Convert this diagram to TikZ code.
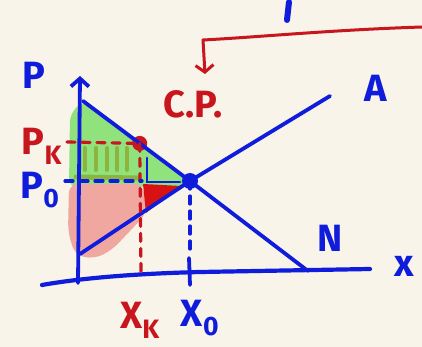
\documentclass[tikz,border=0pt]{standalone}
\usepackage{fontspec}
\setmainfont{Fira Sans}
\usetikzlibrary{arrows.meta,positioning,calc}
\definecolor{cB}{HTML}{0F1CDB}
\definecolor{cR}{HTML}{C8161E}
\definecolor{cG}{HTML}{8FE27C}
\definecolor{cH}{HTML}{8DB43E}
\definecolor{cP}{HTML}{F0A7A0}
\definecolor{cD}{HTML}{D81212}
\definecolor{paper}{HTML}{F8F4EA}
\tikzset{pen/.style={line width=3.8pt,line cap=round,line join=round},
  dashpen/.style={pen,line width=3.2pt,dash pattern=on 8pt off 7pt},
  lab/.style={font=\fontsize{38}{38}\selectfont\bfseries,inner sep=0pt},
  dot/.style={circle,fill,inner sep=0pt,minimum size=#1}}

\begin{document}
\begin{tikzpicture}[x=1pt,y=-1pt]
  \fill[paper] (0,0) rectangle (422,347);
  \useasboundingbox (0,0) rectangle (422,347);
  % points of the two lines
  \coordinate (dTop) at (83,101);
  \coordinate (dEnd) at (308,271);
  \coordinate (sStart) at (80,254);
  \coordinate (sEnd) at (330,96);
  \coordinate (eqPt) at (190,181);
  % shaded areas
  \fill[cG,rounded corners=8pt] (70,114) -- (dTop) -- (eqPt) -- (184,187) -- (69,187) -- cycle;
  \fill[cP,rounded corners=9pt] (69,184) -- (143,184) -- (147,213) -- (112,250) -- (94,259) -- (75,255) -- (68,232) -- cycle;
  \fill[cD] (143,184) -- (181,186) -- (146,213) -- cycle;
  \foreach \hx in {85,96,107,117,127}
    \draw[cH,line width=4pt,line cap=round] (\hx,148) -- (\hx,170);
  \draw[cH,line width=5pt,line cap=round] (76,177) -- (138,178);
  % axes
  \coordinate (yBot) at (78,283);
  \coordinate (yTop) at (80,76);
  \draw[cB,pen,-{Straight Barb[length=8pt,width=18pt]}] (yBot) -- (yTop);
  \draw[cB,pen,line width=4.2pt] (42,285) .. controls (70,280) and (120,274) .. (200,272) -- (370,269);
  % supply and demand
  \node[dot=16pt,fill=cB] (eq) at (eqPt) {};
  \node[dot=15pt,fill=cR] (pk) at ($(dTop)!0.53!(eqPt)$) {};
  \draw[cB,pen] (dTop) -- (eq.center) -- (dEnd);
  \draw[cB,pen] (sStart) -- (eq.center) -- (sEnd);
  % dashed guides
  \draw[cR,dashpen] (67,142) -- (pk.center);
  \draw[cR,dashpen] (pk.center) -- (141,272);
  \draw[cB,dashpen] (65,181) -- (142,181);
  \draw[cB,line width=2.8pt,line cap=round] (147,158) -- (147,182) -- (180,182);
  \draw[cB,dashpen] (eq.center) -- (190,250);
  \draw[cB,pen] (189,258) -- (190,285);
  % red pointer
  \coordinate (cpTip) at (205,74);
  \draw[cR,pen,line width=3pt,-{Straight Barb[length=7pt,width=18pt]}] (422,27) .. controls (330,30) and (260,37) .. (203,40) -- (cpTip);
  \draw[cB,line width=6pt,line cap=round] (289,2) -- (287,20);
  % labels
  \node[lab,text=cB] (lblP) at (34,75) {P};
  \node[lab,text=cR] (lblCP) at (193,104) {C.P.};
  \node[lab,text=cB] (lblA) at (376,88) {A};
  \node[lab,text=cB] (lblN) at (330,238) {N};
  \node[lab,text=cB] (lblx) at (404,266) {x};
  \node[lab,text=cR] (lblPk) at (42,146) {P\textsubscript{K}};
  \node[lab,text=cB] (lblPo) at (40,190) {P\textsubscript{0}};
  \node[lab,text=cR] (lblXk) at (140,320) {X\textsubscript{K}};
  \node[lab,text=cB] (lblXo) at (200,318) {X\textsubscript{0}};
\end{tikzpicture}
\end{document}
